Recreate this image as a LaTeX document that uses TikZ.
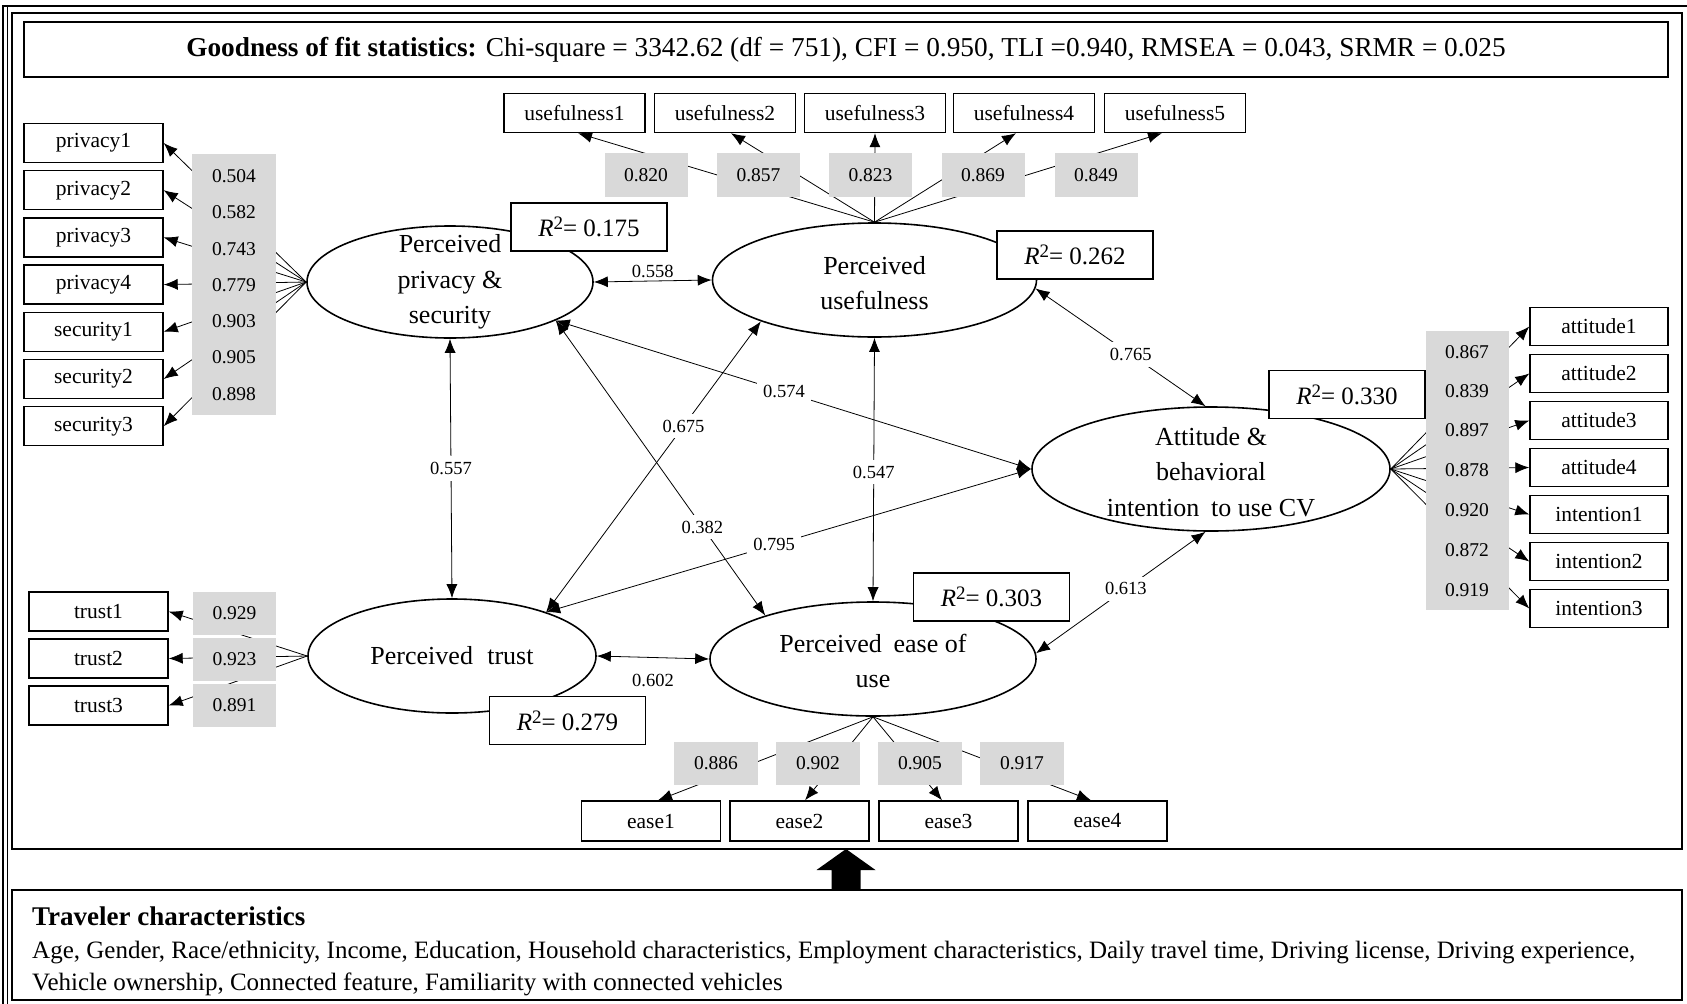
\documentclass[tikz,border=0pt]{standalone}
\usepackage{fontspec}
\setmainfont{Liberation Serif}
\usetikzlibrary{shapes.geometric,arrows.meta}

\definecolor{loadgray}{RGB}{217,217,217}
\newcommand{\rsq}[1]{\textit{R}\raisebox{0.62ex}{\fontsize{19}{19}\selectfont 2}= #1}

\begin{document}
\begin{tikzpicture}[x=1pt,y=-1pt,
  conn/.style={line width=0.8pt},
  onearrow/.style={-{Latex[length=14pt,width=11pt]}},
  dblarrow/.style={{Latex[length=14pt,width=11pt]}-{Latex[length=14pt,width=11pt]}},
  latent/.style={ellipse, draw, line width=1.6pt, fill=white, inner sep=0pt},
  latenttext/.style={align=center, font=\fontsize{26}{35.5}\selectfont},
  indicator/.style={draw, line width=1.4pt, fill=white, minimum width=139pt, minimum height=39pt, inner sep=0pt, font=\fontsize{21.5}{24}\selectfont},
  loadbox/.style={fill=loadgray, inner sep=0pt},
  loadnum/.style={font=\fontsize{19.5}{22}\selectfont, inner sep=0pt},
  coef/.style={font=\fontsize{18.5}{20}\selectfont, fill=white, inner sep=2pt},
  r2box/.style={draw, line width=1.8pt, fill=white, minimum width=156pt, minimum height=48pt, inner sep=0pt, font=\fontsize{25}{28}\selectfont},
]
\useasboundingbox (0,0) rectangle (1687,1004);

% page rules
\draw[line width=1.2pt] (3,1004) -- (3,6) -- (1687,6);
\draw[line width=0.8pt] (7,1004) -- (7,6);

% frames
\node[draw, line width=2pt, minimum width=1670pt, minimum height=836pt, inner sep=0pt] (frame) at (847,431) {};
\node[draw, line width=1.5pt, minimum width=1644pt, minimum height=55pt, inner sep=0pt, font=\fontsize{27.3}{30}\selectfont] (gof) at (846,49.5)
  {\textbf{Goodness of fit statistics:} Chi-square = 3342.62 (df = 751), CFI = 0.950, TLI =0.940, RMSEA = 0.043, SRMR = 0.025};
\node[draw, line width=1.5pt, minimum width=1670pt, minimum height=110pt, inner sep=0pt] (traveler) at (847,945) {};
\node[anchor=base west, inner sep=0pt, font=\fontsize{27}{30}\selectfont\bfseries] (trhead) at (32,925) {Traveler characteristics};
\node[anchor=base west, inner sep=0pt, font=\fontsize{25}{28}\selectfont] (trline1) at (32,958) {Age, Gender, Race/ethnicity, Income, Education, Household characteristics, Employment characteristics, Daily travel time, Driving license, Driving experience,};
\node[anchor=base west, inner sep=0pt, font=\fontsize{25}{28}\selectfont] (trline2) at (32,990) {Vehicle ownership, Connected feature, Familiarity with connected vehicles};

% block arrow from traveler characteristics into the model
\coordinate (arrowtip) at (846,849);
\coordinate (arrowfoot) at (846,890);
\fill (arrowfoot) ++(-14.5,0) -- ++(0,-20) -- ++(-15,0) -- (arrowtip) -- ++(29.5,21) -- ++(-15,0) -- ++(0,20) -- cycle;

% latent constructs
\node[latent, minimum width=286pt, minimum height=112pt] (priv) at (450,282) {};
\node[latent, minimum width=324pt, minimum height=114pt] (usef) at (874.5,280) {};
\node[latent, minimum width=288pt, minimum height=114pt] (trust) at (452,656) {};
\node[latent, minimum width=326pt, minimum height=114pt] (ease) at (873,659) {};
\node[latent, minimum width=358pt, minimum height=124pt] (att) at (1211,469) {};
\node[latenttext] (privtxt) at (priv) {Perceived\\privacy \&\\security};
\node[latenttext] (useftxt) at (874.5,283) {Perceived\\usefulness};
\node[latenttext] (trusttxt) at (trust) {Perceived\hspace{0.3em} trust};
\node[latenttext] (easetxt) at (873,661) {Perceived\hspace{0.2em} ease of\\use};
\node[latenttext] (atttxt) at (1211,472) {Attitude \&\\behavioral\\intention\hspace{0.2em} to use CV};

% indicators
\foreach \i/\t/\y in {1/privacy1/143, 2/privacy2/190.2, 3/privacy3/237.4, 4/privacy4/284.6, 5/security1/331.8, 6/security2/379, 7/security3/426.2}
  \node[indicator] (pp\i) at (93.5,\y) {\t};
\foreach \i/\y in {1/611.5, 2/658.5, 3/705.5}
  \node[indicator] (tt\i) at (98.5,\y) {trust\i};
\foreach \i/\x in {1/574.5, 2/725, 3/875, 4/1024, 5/1175}
  \node[indicator, minimum width=141pt] (uu\i) at (\x,113) {usefulness\i};
\foreach \i/\t/\y in {1/attitude1/326.5, 2/attitude2/373.5, 3/attitude3/420.5, 4/attitude4/467.5, 5/intention1/514.5, 6/intention2/561.5, 7/intention3/608.5}
  \node[indicator, minimum width=138pt, minimum height=38pt] (aa\i) at (1599,\y) {\t};
\foreach \i/\x in {1/651, 2/799.5, 3/948.5, 4/1097.5}
  \node[indicator, minimum height=40pt] (ee\i) at (\x,821) {ease\i};

% loadings: connectors first, then the grey panels over them
\foreach \i in {1,...,7} \draw[conn,onearrow] (priv.west) -- (pp\i.east);
\foreach \i in {1,...,3} \draw[conn,onearrow] (trust.west) -- (tt\i.east);
\foreach \i/\dx in {1/3.5, 2/6, 3/0, 4/-8, 5/-13} \draw[conn,onearrow] (usef.north) -- ([xshift=\dx pt]uu\i.south);
\foreach \i in {1,...,7} \draw[conn,onearrow] (att.east) -- (aa\i.west);
\foreach \i/\dx in {1/7, 2/5.5, 3/-6.5, 4/-6.5} \draw[conn,onearrow] (ease.south) -- ([xshift=\dx pt]ee\i.north);

\node[loadbox, minimum width=84pt, minimum height=261pt] (privload) at (234,284.5) {};
\foreach \v/\y in {0.504/176, 0.582/212, 0.743/249, 0.779/285, 0.903/321, 0.905/357, 0.898/394}
  \node[loadnum] at (234,\y) {\v};
\node[loadbox, minimum width=83pt, minimum height=279pt] (attload) at (1467.5,470.5) {};
\foreach \v/\y in {0.867/352, 0.839/391, 0.897/430, 0.878/470, 0.920/510, 0.872/550, 0.919/590}
  \node[loadnum] at (1467,\y) {\v};
\foreach \i/\v/\y in {1/0.929/613.5, 2/0.923/659, 3/0.891/705}
  \node[loadbox, loadnum, minimum width=83pt, minimum height=43pt] (tl\i) at (234.5,\y) {\v};
\foreach \i/\v/\x in {1/0.820/646, 2/0.857/758.5, 3/0.823/870.5, 4/0.869/983, 5/0.849/1096}
  \node[loadbox, loadnum, minimum width=83pt, minimum height=44pt] (ul\i) at (\x,175) {\v};
\foreach \i/\v/\x in {1/0.886/716, 2/0.902/818, 3/0.905/920, 4/0.917/1022}
  \node[loadbox, loadnum, minimum width=84pt, minimum height=43pt] (el\i) at (\x,763.5) {\v};

% correlations between constructs
\draw[conn,dblarrow] (priv.east) -- node[coef, fill=none, above, inner sep=3pt] {0.558} (usef.west);
\draw[conn,dblarrow] (trust.east) -- node[coef, fill=none, below=10pt, inner sep=6pt] {0.602} (ease.west);
\draw[conn,dblarrow] (priv.south) -- node[coef, pos=0.5, inner sep=6pt] {0.557} (trust.north);
\draw[conn,dblarrow] (usef.south) -- node[coef, pos=0.51, inner sep=6pt] {0.547} (ease.north);
\draw[conn,dblarrow] (priv.-20) -- node[coef, pos=0.48, inner sep=6pt] {0.574} (att.west);
\draw[conn,dblarrow] (trust.25) -- node[coef, pos=0.47, inner sep=6pt] {0.795} (att.west);
\draw[conn,dblarrow] (trust.25) -- node[coef, pos=0.64, inner sep=6pt] {0.675} (usef.-160);
\draw[conn,dblarrow] (priv.-20) -- node[coef, pos=0.7, inner sep=6pt] {0.382} (ease.158);
\draw[conn,dblarrow] (usef.-3) -- node[coef, pos=0.56, inner sep=6pt] {0.765} (att.95);
\draw[conn,dblarrow] (ease.2) -- node[coef, pos=0.53, inner sep=6pt] {0.613} (att.-95);

% explained variance
\node[r2box] (r2priv) at (589,227) {\rsq{0.175}};
\node[r2box] (r2usef) at (1075,255) {\rsq{0.262}};
\node[r2box] (r2trust) at (567.5,720.5) {\rsq{0.279}};
\node[r2box] (r2ease) at (991.5,597) {\rsq{0.303}};
\node[r2box] (r2att) at (1347,394.5) {\rsq{0.330}};

\end{tikzpicture}
\end{document}
